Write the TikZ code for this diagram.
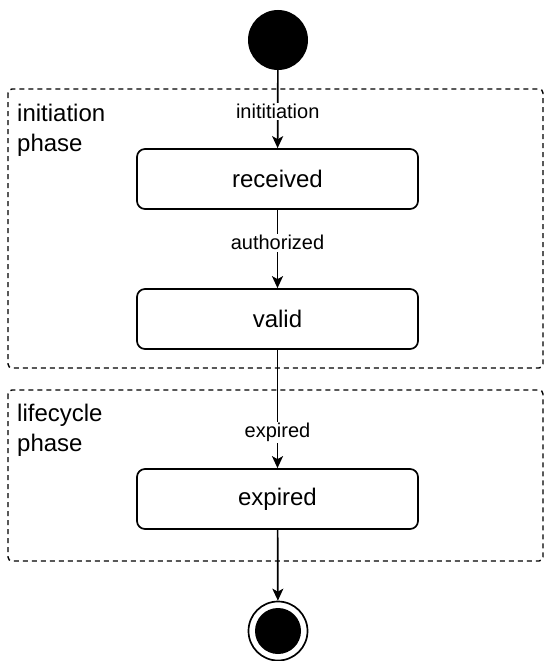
\documentclass[tikz,border=0pt]{standalone}
\usepackage{fontspec}
\setmainfont{Liberation Sans}
\usetikzlibrary{arrows.meta}
\usetikzlibrary{positioning}

\tikzset{
  phasebox/.style={draw, dash pattern=on 5pt off 4pt, line width=1.4pt, rounded corners=4pt},
  phaselbl/.style={anchor=north west, align=left, inner sep=0pt, font=\fontsize{24}{30}\selectfont},
  state/.style={draw, line width=1.7pt, rounded corners=8pt, minimum width=281pt, minimum height=60pt, inner sep=0pt, font=\fontsize{24}{28}\selectfont},
  trans/.style={->, line width=1.7pt},
  lbl/.style={fill=white, inner sep=1.5pt, font=\fontsize{20}{22}\selectfont}
}

\begin{document}
\begin{tikzpicture}[x=1pt, y=-1pt, >={Stealth[length=12pt, width=11pt, inset=3pt]}]
\useasboundingbox (0,0) rectangle (545,661);

%phases
\draw[phasebox] (8, 89) rectangle (543, 368);
\node[phaselbl] (initphase) at (17, 104) {initiation\\phase};

\draw[phasebox] (8, 390) rectangle (543, 561);
\node[phaselbl] (lifephase) at (17, 404) {lifecycle\\phase};

%states
\node[circle, fill, minimum size=60pt, inner sep=0pt] (start) at (278, 40) {};
\node[state] (received) at (277.5, 179) {received};
\node[state] (valid) at (277.5, 319) {valid};
\node[state] (expired) at (277.5, 499) {expired};
\node[circle, draw, line width=1.7pt, minimum size=59pt, inner sep=0pt] (final) at (278, 631) {};
\node[circle, fill, minimum size=46pt, inner sep=0pt] (finaldot) at (final) {};

%transitions
\draw[trans] (start) -- node[lbl, pos=0.53] (lblinit) {inititiation} (received);
\draw[trans] (received) -- node[lbl, pos=0.42] (lblauth) {authorized} (valid);
\draw[trans] (valid) -- node[lbl, pos=0.7] (lblexp) {expired} (expired);
\draw[trans] (expired) -- (final);
\end{tikzpicture}
\end{document}
